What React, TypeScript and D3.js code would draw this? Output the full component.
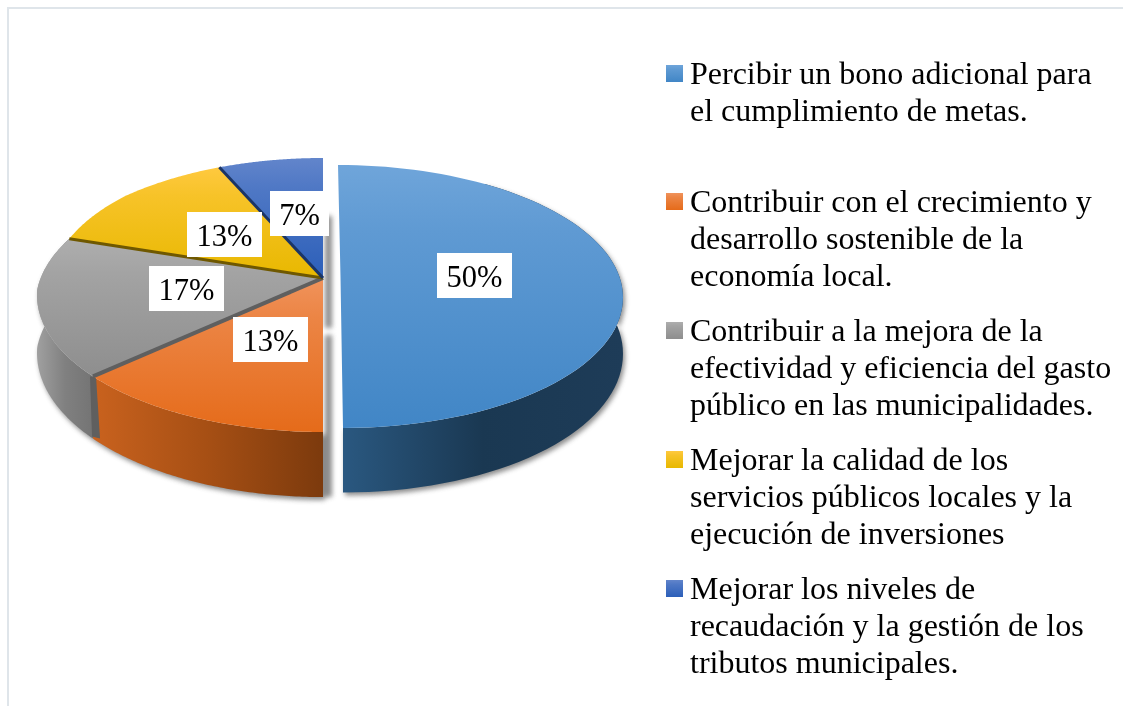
import React from "react";
import * as d3 from "d3";

const categories = [
  "Percibir un bono adicional para el cumplimiento de metas.",
  "Contribuir con el crecimiento y desarrollo sostenible de la economía local.",
  "Contribuir a la mejora de la efectividad y eficiencia del gasto público en las municipalidades.",
  "Mejorar la calidad de los servicios públicos locales y la ejecución de inversiones",
  "Mejorar los niveles de recaudación y la gestión de los tributos municipales.",
];
const respondents = [15, 4, 5, 4, 2];
const legendLines = [
  ["Percibir un bono adicional para", "el cumplimiento de metas."],
  ["Contribuir con el crecimiento y", "desarrollo sostenible de la", "economía local."],
  ["Contribuir a la mejora de la", "efectividad y eficiencia del gasto", "público en las municipalidades."],
  ["Mejorar la calidad de los", "servicios públicos locales y la", "ejecución de inversiones"],
  ["Mejorar los niveles de", "recaudación y la gestión de los", "tributos municipales."],
];
const topColors = [
  ["#6fa5da", "#4186c6"],
  ["#f0935c", "#e56b1a"],
  ["#aeaeae", "#8e8e8e"],
  ["#ffc93f", "#e8b800"],
  ["#6285cb", "#2c5fb9"],
];
const sideColors = [
  ["#2a5880", "#1a3852", "#1e3c58"],
  ["#c9621e", "#a64f14", "#7c3a0d"],
  ["#a0a0a0", "#808080", "#747474"],
  ["#8a6a00", "#8a6a00", "#8a6a00"],
  ["#1d3a70", "#1d3a70", "#1d3a70"],
];
const wallColors = ["#1c3c58", "#5f5f5f", "#6f5800", "#1b3566", "#1b3566"];
const labelBoxes = [
  { x: 437, y: 253, w: 75, h: 45 },
  { x: 233, y: 317, w: 75, h: 45 },
  { x: 149, y: 266, w: 75, h: 45 },
  { x: 187, y: 212, w: 75, h: 45 },
  { x: 270, y: 191, w: 59, h: 45 },
];
const legendY = [84, 212, 341, 470, 599];

const FONT = "'Liberation Serif','Times New Roman',serif";
const rightPie = { cx: 338, cy: 277, a: 128.6, b: 279, k: 0.148, depth: 55, shear: 5 };
const leftPie = { cx: 323, cy: 278, a: 134.9, b: 283.8, k: 0.124, depth: 57, shear: 0 };

type Geo = typeof rightPie;
const project = (g: Geo, t: number, r = 1): [number, number] => {
  const X = Math.sin(t) * r;
  const Y = -Math.cos(t) * r;
  const w = 1 - g.k * Y;
  return [g.cx + (X * g.b) / w + ((Y + 1) / 2) * g.shear, g.cy + (Y * g.a) / w];
};
const drop = (g: Geo, t: number): number => g.depth / (1 - g.k * -Math.cos(t));
const line = d3.line();
// The rim in the reference sits slightly inside the ellipse around the grey/yellow joint.
const INSET = 0.025;
const INSET_SPREAD = 0.4;
// The back of the blue slice is hidden: its wall only starts past this angle.
const HIDDEN_BACK = 0.6;

export default function App() {
  const total = d3.sum(respondents);
  const pct = (v: number) => d3.format(".0%")(v / total);
  const arcs = d3.pie<number>().sort(null).value((d) => d)(respondents);
  const joint = arcs[2].endAngle;
  const radius = (i: number, t: number) =>
    i === 2 || i === 3 ? 1 - INSET * Math.max(0, 1 - Math.abs(t - joint) / INSET_SPREAD) : 1;
  const slices = arcs.map((s, i) => {
    const g = i === 0 ? rightPie : leftPie;
    const ts = d3.range(0, 81).map((j) => s.startAngle + ((s.endAngle - s.startAngle) * j) / 80);
    const rim = ts.map((t) => project(g, t, radius(i, t)));
    const wallTs = i === 0 ? ts.filter((t) => t > HIDDEN_BACK) : ts;
    const upper = wallTs.map((t) => project(g, t, radius(i, t)));
    const low = wallTs.map((t, j): [number, number] => [upper[j][0], upper[j][1] + drop(g, t)]);
    const apex = project(g, 0, 0);
    return {
      i,
      g,
      apex,
      rim,
      top: line([apex, ...rim])! + "Z",
      side: line([...upper, ...[...low].reverse()])! + "Z",
    };
  });

  const silhouette = (ids: number[]) => ids.map((i) => slices[i].side).join(" ");

  // Inner walls: each runs from the apex to the rim at a slice boundary
  const walls = [
    { s: slices[2], color: wallColors[1], w: 4 },
    { s: slices[3], color: wallColors[2], w: 3 },
    { s: slices[4], color: wallColors[3], w: 3 },
  ];
  const grey = slices[2];
  const gs = grey.rim[0];
  const gd = drop(grey.g, arcs[2].startAngle);

  return (
    <svg
      width={1123}
      height={706}
      style={{ position: "absolute", left: 0, top: 0, background: "#fff" }}
    >
      <defs>
        <filter id="soft" x="-10%" y="-10%" width="120%" height="120%">
          <feGaussianBlur stdDeviation="2.5" />
        </filter>
        {topColors.map((c, i) => (
          <linearGradient key={i} id={`top${i}`} x1="0" y1="0" x2="0" y2="1">
            <stop offset="0" stopColor={c[0]} />
            <stop offset="0.25" stopColor={d3.interpolateRgb(c[0], c[1])(0.35)} />
            <stop offset="1" stopColor={c[1]} />
          </linearGradient>
        ))}
        {sideColors.map((c, i) => (
          <linearGradient key={i} id={`side${i}`} x1="0" y1="0" x2="1" y2="0">
            <stop offset="0" stopColor={c[0]} />
            <stop offset="0.5" stopColor={c[1]} />
            <stop offset="1" stopColor={c[2]} />
          </linearGradient>
        ))}
      </defs>

      <path d="M8,706V8H1123" fill="none" stroke="#dfe5ea" strokeWidth={2} />

      {/* soft shadows */}
      <g filter="url(#soft)" fill="#777" opacity={0.85}>
        <path d={silhouette([0])} transform="translate(2,3)" />
        <path d={silhouette([1, 2])} transform="translate(2,3)" />
        <rect x={325} y={216} width={7} height={112} />
        <rect x={325} y={335} width={7} height={162} />
      </g>

      {/* extruded sides */}
      {slices.slice(0, 3).map((s) => (
        <path key={s.i} d={s.side} fill={`url(#side${s.i})`} />
      ))}
      <path
        d={line([
          [gs[0] - 3, gs[1]],
          [gs[0] + 3, gs[1]],
          [gs[0] + 7, gs[1] + gd],
          [gs[0] - 1, gs[1] + gd - 2],
        ])! + "Z"}
        fill={wallColors[1]}
      />

      {/* top faces, back to front */}
      {[4, 3, 2, 1, 0].map((i) => (
        <path key={i} d={slices[i].top} fill={`url(#top${i})`} />
      ))}

      {/* thin inner walls between slices */}
      {walls.map((e) => (
        <path
          key={e.s.i}
          d={line([e.s.apex, e.s.rim[0]])!}
          stroke={e.color}
          strokeWidth={e.w}
          fill="none"
        />
      ))}

      {/* value labels */}
      {slices.map((s) => {
        const b = labelBoxes[s.i];
        return (
          <g key={s.i}>
            <rect x={b.x} y={b.y} width={b.w} height={b.h} fill="#fff" />
            <text
              x={b.x + b.w / 2}
              y={b.y + 34}
              textAnchor="middle"
              fontFamily={FONT}
              fontSize={30.5}
              fill="#000"
            >
              {pct(respondents[s.i])}
            </text>
          </g>
        );
      })}

      {/* legend */}
      {categories.map((c, i) => (
        <g key={i} aria-label={c}>
          <rect x={666} y={legendY[i] - 19} width={17} height={17} fill={`url(#top${i})`} />
          {legendLines[i].map((l, j) => (
            <text
              key={j}
              x={690}
              y={legendY[i] + j * 36.8}
              fontFamily={FONT}
              fontSize={32}
              fill="#000"
            >
              {l}
            </text>
          ))}
        </g>
      ))}
    </svg>
  );
}
